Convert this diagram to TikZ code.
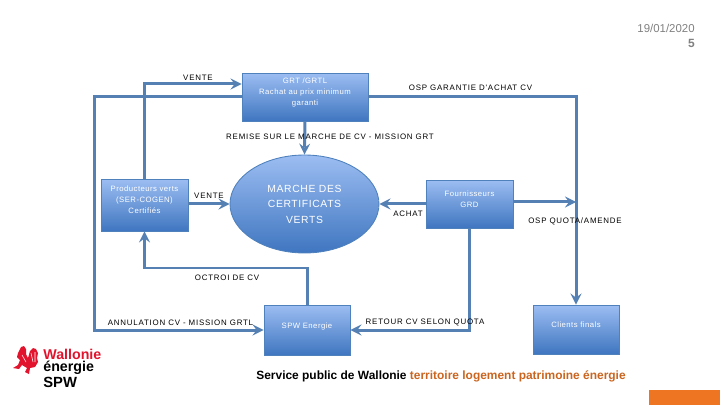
\documentclass[tikz,border=0pt]{standalone}
\usepackage{fontspec}
\setmainfont{Liberation Sans}
\newfontfamily\lblfont[LetterSpace=10]{Liberation Sans}
\newfontfamily\boxfont[LetterSpace=6]{Liberation Sans}
\usepackage{tikz}
\usetikzlibrary{calc}
\usetikzlibrary{arrows, shapes}

\definecolor{flowcol}{HTML}{5480B4}
\definecolor{boxtop}{HTML}{9CBDF2}
\definecolor{boxbot}{HTML}{3F76C0}
\definecolor{boxline}{HTML}{4F81BD}
\definecolor{spwred}{HTML}{E2142D}
\definecolor{spworange}{HTML}{EE7623}

\tikzset{
    bluebox/.style={draw=boxline, line width=0.5pt, top color=boxtop, bottom color=boxbot, text=white, align=center, inner sep=0pt, font=\boxfont\fontsize{4.4}{6.2}\selectfont},
    flow/.style={draw=flowcol, line width=0.06cm},
    flowarrow/.style={flow, -stealth},
    lbl/.style={inner sep=0pt, text=black, font=\lblfont\fontsize{4.5}{5.5}\selectfont},
}

\begin{document}
\begin{tikzpicture}[x=0.02cm, y=-0.02cm]
    \useasboundingbox (0,0) rectangle (720,405);
    \def\leftx{94}; % left rail x coordinate
    \def\octroiy{268}; % bend of the octroi line

    % boxes %%%%%%%%%%%%%%%%%%%%%%%%%%%%%%%%%%%%%%%%%%%%%%%%%%%%%%%%%%%
    \node[bluebox, minimum width=2.52cm, minimum height=0.96cm] (grt) at (305,97) {GRT /GRTL\\Rachat au prix minimum\\garanti\\[0pt]};
    \node[bluebox, minimum width=1.74cm, minimum height=1.04cm] (prod) at (144.5,205) {Producteurs verts\\(SER-COGEN)\\Certifi\'es\\[-0.5pt]};
    \node[bluebox, ellipse, minimum width=2.98cm, minimum height=1.96cm, font=\boxfont\fontsize{5.9}{8.8}\selectfont] (market) at (304.5,204) {MARCHE DES\\CERTIFICATS\\VERTS};
    \node[bluebox, minimum width=1.74cm, minimum height=0.96cm] (four) at (469.5,204) {Fournisseurs\\GRD\\[-0.5pt]};
    \node[bluebox, minimum width=1.72cm, minimum height=1cm] (spw) at (307,330) {SPW Energie\\[-1.7pt]};
    \node[bluebox, minimum width=1.72cm, minimum height=0.98cm] (clients) at (576,329.5) {Clients finals\\[-0.5pt]};

    % connectors %%%%%%%%%%%%%%%%%%%%%%%%%%%%%%%%%%%%%%%%%%%%%%%%%%%%%%
    \coordinate (grtin) at ($(grt.west)+(0,-13)$);
    \coordinate (fourout) at ($(four.east)+(0,-2)$);
    \coordinate (octroibend) at (spw.north |- 0,\octroiy);
    \draw[flowarrow] (prod.north) |- (grtin);
    \draw[flowarrow] (grt.south) -- (market.north);
    \draw[flowarrow] (prod.east |- market.west) -- (market.west);
    \draw[flowarrow] (grt.west) -- (\leftx,97) -- (\leftx,330) -- (spw.west);
    \draw[flowarrow] (grt.east) -| (clients.north);
    \draw[flowarrow] (four.west) -- (market.east);
    \draw[flowarrow] (fourout) -- (fourout -| clients.north);
    \draw[flowarrow] (four.south) |- (spw.east);
    \draw[flowarrow] (spw.north) -- (octroibend) -| (prod.south);

    % annotations %%%%%%%%%%%%%%%%%%%%%%%%%%%%%%%%%%%%%%%%%%%%%%%%%%%%%
    \node[lbl] (venteh) at (198,78) {VENTE};
    \node[lbl] (venteb) at (209,196) {VENTE};
    \node[lbl] (remise) at (330,137) {REMISE SUR LE MARCHE DE CV - MISSION GRT};
    \node[lbl] (garantie) at (470.5,88) {OSP GARANTIE D'ACHAT CV};
    \node[lbl] (achat) at (408,214) {ACHAT};
    \node[lbl] (quota) at (575,221) {OSP QUOTA/AMENDE};
    \node[lbl] (octroi) at (227,278) {OCTROI DE CV};
    \node[lbl] (annul) at (180.5,323) {ANNULATION CV - MISSION GRTL};
    \node[lbl] (retour) at (425,322) {RETOUR CV SELON QUOTA};

    % date and page %%%%%%%%%%%%%%%%%%%%%%%%%%%%%%%%%%%%%%%%%%%%%%%%%%%
    \node[anchor=east, inner sep=0pt, text=gray, font=\fontsize{6.5}{7}\selectfont] (date) at (695,28) {19/01/2020};
    \node[anchor=east, inner sep=0pt, text=gray, font=\bfseries\fontsize{6.8}{7}\selectfont] (page) at (695,43) {5};

    % footer %%%%%%%%%%%%%%%%%%%%%%%%%%%%%%%%%%%%%%%%%%%%%%%%%%%%%%%%%%
    \node[anchor=west, inner sep=0pt, font=\bfseries\fontsize{6.8}{7}\selectfont] (service) at (256,376) {Service public de Wallonie \textcolor{spworange!85!black}{territoire logement patrimoine \'energie}};
    \fill[spworange] (649,390) rectangle (720,405);

    % logo %%%%%%%%%%%%%%%%%%%%%%%%%%%%%%%%%%%%%%%%%%%%%%%%%%%%%%%%%%%%
    \node[anchor=west, inner sep=0pt, text=spwred, font=\bfseries\fontsize{8.1}{9}\selectfont] (wallonie) at (43,354) {Wallonie};
    \node[anchor=west, inner sep=0pt, font=\bfseries\fontsize{8.1}{9}\selectfont] (energie) at (43,368) {\'energie};
    \node[anchor=west, inner sep=0pt, font=\bfseries\fontsize{8.4}{9}\selectfont] (spwlogo) at (43,382) {SPW};
    \fill[spwred] (18,353) -- (21,347) -- (24,346) -- (26,349) -- (26,354) -- (28,358) -- (30,351) -- (33,348) -- (36,349) -- (38,353) -- (37,358) -- (38,362) -- (35,367) -- (30,368) -- (29,374) -- (25,372) -- (27,368) -- (22,365) -- (19,369) -- (13,368) -- (18,365) -- (20,360) -- (17,357) -- cycle;
    \draw[white, line width=0.3pt] (31,353) -- (33,362) (35,352) -- (35,362) (22,355) -- (26,362);
\end{tikzpicture}
\end{document}
